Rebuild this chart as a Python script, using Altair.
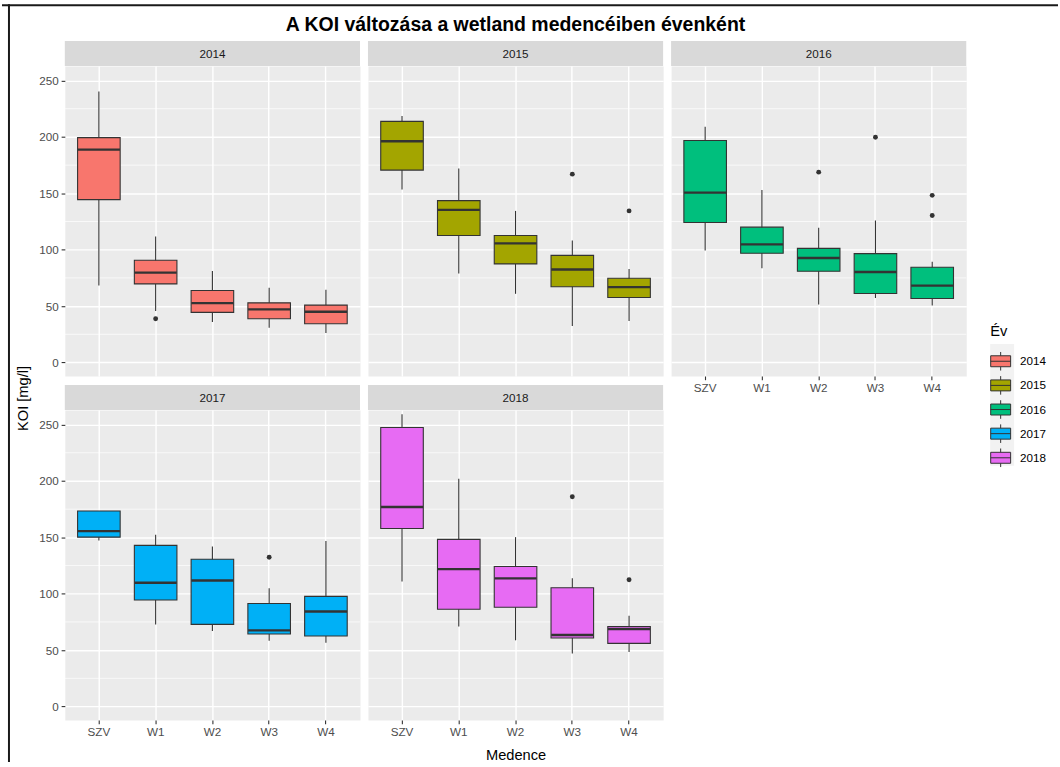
import altair as alt
import pandas as pd

# ---------------- data ----------------
years = [2014, 2015, 2016, 2017, 2018]
medence = ["SZV", "W1", "W2", "W3", "W4"]

# boxplot statistics, ordered year by year, SZV..W4 within each year
whisker_low = [68.2, 45.6, 35.9, 30.9, 26.2,
               153.5, 78.8, 60.9, 32.4, 36.8,
               99.4, 83.5, 51.5, 57.1, 50.6,
               147.3, 72.8, 66.9, 58.4, 56.6,
               110.9, 71.0, 58.7, 46.9, 48.4]
q1 = [144.4, 69.7, 44.4, 38.8, 34.4,
      170.6, 112.6, 87.4, 67.1, 57.6,
      124.1, 96.8, 80.9, 61.2, 56.8,
      150.2, 94.5, 72.8, 64.3, 62.5,
      157.9, 86.3, 88.0, 60.7, 56.0]
median = [188.8, 79.7, 52.6, 47.1, 45.0,
          196.2, 135.3, 105.6, 82.4, 66.8,
          150.6, 104.7, 92.6, 80.3, 68.2,
          155.5, 109.7, 111.8, 67.5, 84.2,
          176.9, 121.8, 113.6, 63.4, 68.7]
q3 = [199.4, 90.6, 63.8, 52.9, 50.9,
      213.8, 143.5, 112.6, 95.0, 74.7,
      196.8, 120.0, 101.2, 96.5, 84.4,
      173.4, 142.9, 130.6, 91.3, 97.7,
      247.4, 148.2, 124.1, 105.3, 71.0]
whisker_high = [240.3, 111.8, 81.2, 66.2, 64.4,
                218.5, 172.0, 134.4, 108.2, 82.9,
                209.1, 152.9, 119.4, 125.9, 89.4,
                173.4, 152.3, 142.0, 104.8, 146.7,
                259.1, 201.9, 150.2, 113.8, 80.4]

outlier_year = [2014, 2015, 2015, 2016, 2016, 2016, 2016, 2017, 2018, 2018]
outlier_medence = ["W1", "W3", "W4", "W2", "W3", "W4", "W4", "W3", "W3", "W4"]
outlier_value = [38.8, 167.0, 134.4, 168.8, 199.7, 148.2, 130.3, 132.3, 186.0, 112.4]

y_breaks = [0, 50, 100, 150, 200, 250]
y_minor = [25, 75, 125, 175, 225]
colors = ["#F8766D", "#A3A500", "#00BF7D", "#00B0F6", "#E76BF3"]

title_text = "A KOI változása a wetland medencéiben évenként"

# ---------------- tables ----------------
box = pd.DataFrame({
    "year": [y for y in years for _ in medence],
    "medence": medence * len(years),
    "lo": whisker_low, "q1": q1, "med": median, "q3": q3, "hi": whisker_high,
})
out = pd.DataFrame({"year": outlier_year, "medence": outlier_medence, "v": outlier_value})
minor_df = pd.DataFrame({"v": y_minor})

FONT = "Liberation Sans"
W, H = 296, 311
STRIP = 25
Y_DOMAIN = [-12, 263]
DARK = "#333333"

box_symbol = "M-1,-0.55H1V0.55H-1Z M-1,0H1 M0,-0.55V-0.93 M0,0.55V0.93"


def panel(year, show_x, show_y, x_title=None, y_title=None, frame=False,
          title=False, key_bg=False):
    yscale = alt.Scale(domain=Y_DOMAIN, nice=False, zero=False)
    xscale = alt.Scale(domain=medence, paddingInner=0, paddingOuter=0.1)
    yaxis_kw = dict(values=y_breaks, grid=True, domain=False)
    if show_y:
        yaxis_kw.update(labels=True, ticks=True)
    else:
        yaxis_kw.update(labels=False, ticks=False)
    if y_title:
        yaxis = alt.Axis(title=y_title, titleY=333, titlePadding=8, **yaxis_kw)
    else:
        yaxis = alt.Axis(title=None, **yaxis_kw)
    xaxis_kw = dict(grid=True, domain=False, bandPosition=0.5, labelAngle=0)
    if show_x:
        xaxis_kw.update(labels=True, ticks=True)
    else:
        xaxis_kw.update(labels=False, ticks=False)
    if x_title:
        xaxis = alt.Axis(title=x_title, titlePadding=9, **xaxis_kw)
    else:
        xaxis = alt.Axis(title=None, **xaxis_kw)

    x_enc = alt.X("medence:N", sort=medence, scale=xscale, axis=xaxis)
    d = box[box["year"] == year]
    o = out[out["year"] == year]

    minor = alt.Chart(minor_df).mark_rule(color="white", strokeWidth=0.7).encode(
        y=alt.Y("v:Q", scale=yscale, axis=yaxis),
        x=alt.value(0), x2=alt.value(W),
    )
    whisk = alt.Chart(d).mark_rule(color=DARK, strokeWidth=1.1).encode(
        x=x_enc, y=alt.Y("lo:Q", scale=yscale, axis=yaxis), y2="hi:Q"
    )
    bars = alt.Chart(d).mark_bar(
        width=alt.RelativeBandSize(0.75), stroke=DARK, strokeWidth=1.1, opacity=1
    ).encode(
        x=x_enc,
        y=alt.Y("q1:Q", scale=yscale, axis=yaxis), y2="q3:Q",
        fill=alt.Fill(
            "year:N",
            scale=alt.Scale(domain=years, range=colors),
            legend=alt.Legend(
                title="Év", orient="none", legendX=928, legendY=259,
                symbolType=box_symbol, symbolSize=400,
                symbolStrokeColor=DARK, symbolStrokeWidth=1,
                labelOffset=9, rowPadding=1.2, titlePadding=12,
            ),
        ),
    )
    med = alt.Chart(d).mark_tick(
        orient="horizontal", size=42.3, thickness=2.4, color=DARK, opacity=1
    ).encode(x=x_enc, y=alt.Y("med:Q", scale=yscale, axis=yaxis))
    pts = alt.Chart(o).mark_circle(size=24, color=DARK, opacity=1).encode(
        x=x_enc, y=alt.Y("v:Q", scale=yscale, axis=yaxis)
    )
    strip_df = pd.DataFrame({"label": [str(year)]})
    strip = alt.Chart(strip_df).mark_rect(color="#D9D9D9").encode(
        x=alt.value(0), x2=alt.value(W), y=alt.value(-STRIP), y2=alt.value(0)
    )
    strip_txt = alt.Chart(strip_df).mark_text(
        font=FONT, fontSize=11.7, color="#1A1A1A", baseline="middle", align="center"
    ).encode(text="label:N", x=alt.value(W / 2), y=alt.value(-STRIP / 2 + 0.5))

    layers = [minor, whisk, bars, med, pts, strip, strip_txt]
    if key_bg:
        # light grey background behind the legend keys
        layers.append(
            alt.Chart(strip_df).mark_rect(color="#F2F2F2").encode(
                x=alt.value(320), x2=alt.value(344), y=alt.value(279), y2=alt.value(401)
            )
        )
    if title:
        title_df = pd.DataFrame({"t": [title_text]})
        layers.append(
            alt.Chart(title_df).mark_text(
                font=FONT, fontSize=19.5, fontWeight="bold", color="black",
                align="center", baseline="alphabetic",
            ).encode(text="t:N", x=alt.value(W / 2), y=alt.value(-35))
        )
    if frame:
        # dark frame of the picture (top and left edges)
        top_line = alt.Chart(strip_df).mark_rule(color="#1A1A1A", strokeWidth=2).encode(
            x=alt.value(-63), x2=alt.value(996), y=alt.value(-60.8)
        )
        left_line = alt.Chart(strip_df).mark_rule(color="#1A1A1A", strokeWidth=2).encode(
            x=alt.value(-56), y=alt.value(-61.8), y2=alt.value(698)
        )
        layers += [top_line, left_line]

    return alt.layer(*layers).properties(width=W, height=H)


panels = [
    panel(2014, False, True, y_title="KOI [mg/l]", frame=True),
    panel(2015, False, False, title=True),
    panel(2016, True, False, key_bg=True),
    panel(2017, True, True),
    panel(2018, True, False, x_title="Medence"),
]

chart = alt.concat(
    *panels, columns=3, spacing={"row": 34, "column": 8}, bounds="flush"
).properties(
    padding={"left": 0, "top": 1, "right": 0, "bottom": 0},
    background="white",
).configure_view(
    fill="#EBEBEB", stroke="transparent"
).configure_axis(
    gridColor="white", gridWidth=1.4, tickColor=DARK, tickSize=3.7, tickWidth=1.1,
    labelColor="#4D4D4D", labelFont=FONT, labelFontSize=11.7, labelPadding=2.9,
    titleFont=FONT, titleFontSize=14.7, titleColor="black", titleFontWeight="normal",
).configure_legend(
    titleFont=FONT, titleFontSize=14.7, titleColor="black", titleFontWeight="normal",
    labelFont=FONT, labelFontSize=11.7, labelColor="black",
)

chart.save("out.html", embed_options={"renderer": "svg", "actions": False})
